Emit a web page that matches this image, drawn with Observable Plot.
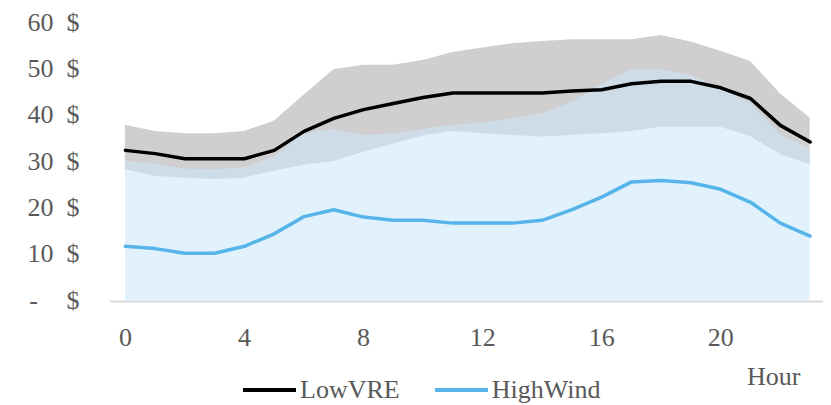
<!DOCTYPE html>
<html>
<head>
<meta charset="utf-8">
<script src="https://cdn.jsdelivr.net/npm/d3@7"></script>
<script src="https://cdn.jsdelivr.net/npm/@observablehq/plot@0.6"></script>
<style>
  body { margin: 0; background: #fff; }
  #wrap { position: relative; width: 831px; height: 405px; font-family: "Liberation Serif", serif; color: #595959; }
  #legend { position: absolute; left: 243px; top: 373px; display: flex; align-items: center; font-size: 26px; height: 34px; }
  #legend .item { display: flex; align-items: center; }
  #legend .sw { width: 53px; height: 4px; margin-right: 4px; }
</style>
</head>
<body>
<div id="wrap"></div>
<script>
const hours     = [0,1,2,3,4,5,6,7,8,9,10,11,12,13,14,15,16,17,18,19,20,21,22,23];
const lowVREMean = [32.4,31.7,30.6,30.6,30.6,32.4,36.5,39.3,41.2,42.5,43.8,44.8,44.8,44.8,44.8,45.2,45.5,46.8,47.3,47.3,45.9,43.6,37.8,34.2];
const lowVREMin  = [28.2,26.8,26.4,26.1,26.4,27.9,29.2,30.0,32.0,33.8,35.5,36.5,36.0,35.6,35.3,35.6,36.0,36.5,37.4,37.4,37.4,35.4,31.5,29.3];
const lowVREMax  = [37.8,36.5,36.0,36.0,36.5,38.7,44.3,49.8,50.8,50.8,51.8,53.5,54.5,55.4,55.9,56.3,56.3,56.3,57.2,55.8,53.8,51.6,44.6,39.4];
const windMean   = [11.7,11.2,10.2,10.2,11.7,14.4,18.1,19.6,18.0,17.3,17.3,16.7,16.7,16.7,17.3,19.6,22.3,25.6,25.9,25.4,24.0,21.2,16.7,13.9];
const windMax    = [30.0,29.5,28.4,28.2,28.6,31.0,36.0,36.9,35.6,36.0,36.9,37.8,38.3,39.2,40.3,42.8,46.6,49.8,49.8,48.6,45.7,42.5,35.8,32.8];
const yTicks = [0,10,20,30,40,50,60];
const xTicks = [0,4,8,12,16,20];
const seriesNames = ["LowVRE","HighWind"];
const seriesColors = ["#000000","#56b4e9"];

const data = hours.map((h,i) => ({hour:h, lowMean:lowVREMean[i], lowMin:lowVREMin[i], lowMax:lowVREMax[i], windMean:windMean[i], windMax:windMax[i]}));

const fontSize = 26;
const chart = Plot.plot({
  width: 831,
  height: 405,
  marginLeft: 110,
  marginRight: 8,
  marginTop: 22,
  marginBottom: 105,
  style: {fontFamily: "'Liberation Serif', serif", fontSize: fontSize + "px", color: "#595959", background: "#fff", overflow: "visible"},
  x: {domain: [-0.5, 23.45], axis: null},
  y: {domain: [0, 60], axis: null},
  marks: [
    Plot.areaY(data, {x: "hour", y1: "lowMin", y2: "lowMax", fill: "#d0cecf"}),
    Plot.areaY(data, {x: "hour", y1: 0, y2: "windMax", fill: "rgb(202,231,250)", fillOpacity: 0.55}),
    Plot.ruleY([0], {stroke: "#d9d9d9", strokeWidth: 2, dy: 1}),
    Plot.lineY(data, {x: "hour", y: "lowMean", stroke: seriesColors[0], strokeWidth: 3.5}),
    Plot.lineY(data, {x: "hour", y: "windMean", stroke: seriesColors[1], strokeWidth: 3.5}),
    Plot.axisX({ticks: xTicks, tickSize: 0, tickPadding: 27, label: null, fontSize: fontSize, fill: "#595959"}),
    Plot.text(yTicks.filter(d => d !== 0), {y: d => d, text: d => String(d), frameAnchor: "left", textAnchor: "end", dx: -57, fill: "#595959", fontSize: fontSize}),
    Plot.text([0], {y: d => d, text: () => "-", frameAnchor: "left", textAnchor: "middle", dx: -77, fill: "#595959", fontSize: fontSize}),
    Plot.text(yTicks, {y: d => d, text: () => "$", frameAnchor: "left", textAnchor: "start", dx: -44, fill: "#595959", fontSize: fontSize}),
    Plot.text(["Hour"], {frameAnchor: "bottom-right", text: d => d, textAnchor: "end", dx: -23, dy: 84, fill: "#595959", fontSize: fontSize})
  ]
});
const wrap = document.getElementById("wrap");
wrap.appendChild(chart);

const legend = document.createElement("div");
legend.id = "legend";
seriesNames.forEach((name, i) => {
  const item = document.createElement("div");
  item.className = "item";
  item.style.marginRight = i === 0 ? "35px" : "0";
  const sw = document.createElement("span");
  sw.className = "sw";
  sw.style.background = seriesColors[i];
  const t = document.createElement("span");
  t.textContent = name;
  item.appendChild(sw);
  item.appendChild(t);
  legend.appendChild(item);
});
wrap.appendChild(legend);
</script>
</body>
</html>
